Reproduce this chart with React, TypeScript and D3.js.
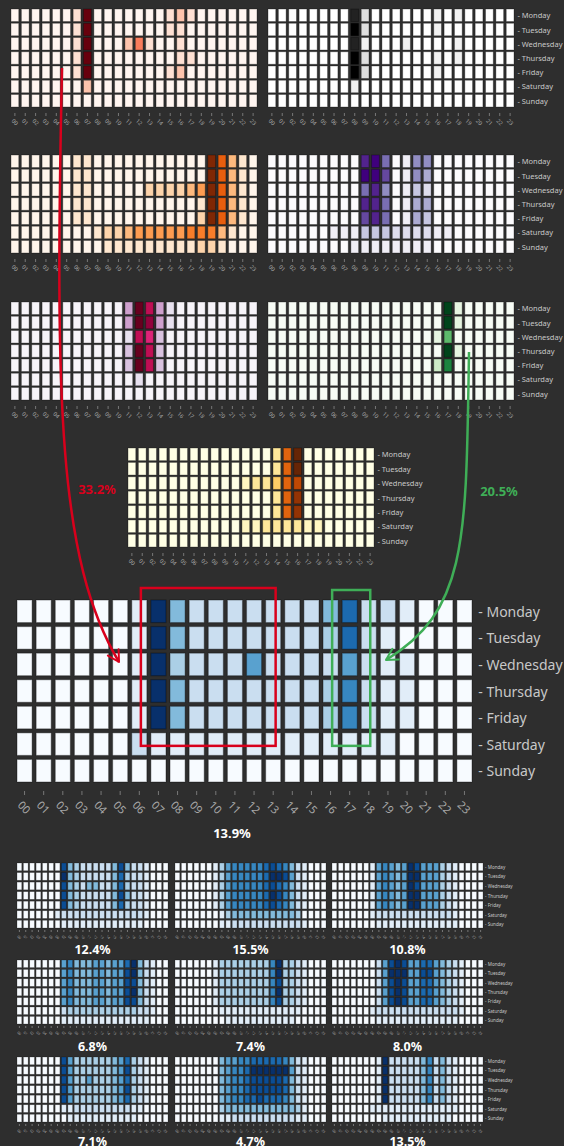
import React from 'react';
import * as d3 from 'd3';

// ---------- labels ----------
const HOURS: string[] = Array.from({ length: 24 }, (_, h) => (h < 10 ? '0' + h : '' + h));
const DAYS = ['Monday', 'Tuesday', 'Wednesday', 'Thursday', 'Friday', 'Saturday', 'Sunday'];

// ---------- data: intensity 0..9 per (day, hour) ----------
const redsGrid = [
  '000000190000000121000000',
  '000000190000000110000000',
  '000000190002410010000000',
  '000000190000000011000000',
  '000000190000000120000000',
  '000000020000000000000000',
  '000000000000000000000000',
];
const greysGrid = [
  '000000008200000010100000',
  '000000009200000010000000',
  '000000008100010000100000',
  '000000009200000010100000',
  '000000009200000010000000',
  '000000001000000000000000',
  '000000000000000000000000',
];
const orangesGrid = [
  '000000110000000000096310',
  '000000110000000000096310',
  '000000110000022223496310',
  '000000110000000000196310',
  '000000110000000000296310',
  '000000001223444445553100',
  '000000000111111111221000',
];
const purplesGrid = [
  '000000000896015500000000',
  '000000000997015400000000',
  '000000000685013200000000',
  '000000000886014400000000',
  '000000000786014300000000',
  '000000111333222211000000',
  '000000001111111100000000',
];
const purdGrid = [
  '000000000003973100000000',
  '000000000003983100000000',
  '000000000001762000000000',
  '000000000002972000000000',
  '000000000002972000000000',
  '000000000000100000000000',
  '000000000000000000000000',
];
const greensGrid = [
  '000000000000000009100000',
  '000000000000000009100000',
  '000000000000000015000000',
  '000000000000000009100000',
  '000000000000000027000000',
  '000000000000000000000000',
  '000000000000000000000000',
];
const ylorbrGrid = [
  '000000000000002690000000',
  '000000000000002690000000',
  '000000000001223670000000',
  '000000000000002680000000',
  '000000000000002680000000',
  '000000000001122221100000',
  '000000000000000000000000',
];
const bigBlues = [
  '000000194222222247221000',
  '000000194222222237210000',
  '000000193222522225211000',
  '000000194222222236211000',
  '000000194222222236211000',
  '000000211111111111110000',
  '000000000000000000000000',
];
const small1 = [
  '000000084322222484221000',
  '000000094322222473221000',
  '000000084324422473221000',
  '000000084322222484221000',
  '000000084322222473221000',
  '000000122222222222221000',
  '000000011111111111110000',
];
const small2 = [
  '000000135666667876421000',
  '000000135666667998521000',
  '000000135666667876421000',
  '000000135666667986421000',
  '000000135666667876421000',
  '000000013444444444430000',
  '000000011222222222221000',
];
const small3 = [
  '000000156545985553210000',
  '000000156545995553210000',
  '000000156545985553210000',
  '000000156545995553210000',
  '000000156545995553210000',
  '000000122222222222210000',
  '000000011111111111110000',
];
const small4 = [
  '000000056444554557942100',
  '000000056444554558942100',
  '000000056444554558842100',
  '000000056444554558942100',
  '000000056444554558842100',
  '000000023333333333322100',
  '000000011111111111111000',
];
const small5 = [
  '000000133333333693321000',
  '000000133333333693321000',
  '000000133333333683321000',
  '000000133333333693321000',
  '000000133333333683321000',
  '000000011111111111110000',
  '000000001111111111100000',
];
const small6 = [
  '000000025898557754321000',
  '000000025999558854321000',
  '000000025898557754321000',
  '000000025898557754321000',
  '000000025898557754321000',
  '000000122222222222221000',
  '000000011111111111110000',
];
const small7 = [
  '000000085333333457321000',
  '000000085333333458321000',
  '000000085335333457321000',
  '000000085333333458321000',
  '000000085333333457321000',
  '000000011222222222110000',
  '000000001111111111100000',
];
const small8 = [
  '000000045566777776421000',
  '000000045667999999521000',
  '000000045667888887421000',
  '000000045667888887421000',
  '000000045667787776421000',
  '000000034444444444431000',
  '000000011222222222211000',
];
const small9 = [
  '000000019222224624210000',
  '000000019222224624210000',
  '000000019222224624210000',
  '000000019222224624210000',
  '000000019222224624210000',
  '000000111111111111110000',
  '000000001111111111100000',
];
const smallGrids = [small1, small2, small3, small4, small5, small6, small7, small8, small9];
const smallLabels = ['12.4%', '15.5%', '10.8%', '6.8%', '7.4%', '8.0%', '7.1%', '4.7%', '13.5%'];
const bigLabel = '13.9%';
const redShare = '33.2%';
const greenShare = '20.5%';

const FONT = "'Segoe UI', 'Noto Sans', 'Open Sans', sans-serif";
const BG = '#2e2e2e';
const RED = '#d8001c';
const GREEN = '#3fae57';

type HMProps = {
  grid: string[];
  interp: (t: number) => string;
  x0: number; y0: number; x1: number; y1: number;
  padX: number; padY: number;
  showDays?: boolean;
  dayFont: number; tickFont: number;
  tickTop: number; tickLen: number; labelOff: number;
  strokeW: number;
};

function Heatmap(p: HMProps) {
  const x = d3.scaleBand<string>().domain(HOURS).range([p.x0, p.x1]).paddingInner(p.padX).paddingOuter(0);
  const y = d3.scaleBand<string>().domain(DAYS).range([p.y0, p.y1]).paddingInner(p.padY).paddingOuter(0);
  const color = d3.scaleSequential(p.interp).domain([0, 9]);
  const cells = p.grid.flatMap((row, r) =>
    row.split('').map((c, h) => ({ day: DAYS[r], hour: HOURS[h], v: parseInt(c, 10) }))
  );
  const bw = x.bandwidth();
  return (
    <g>
      {cells.map((d, i) => (
        <rect
          key={i}
          x={x(d.hour)}
          y={y(d.day)}
          width={bw}
          height={y.bandwidth()}
          fill={color(d.v)}
          stroke="#000000"
          strokeOpacity={0.3}
          strokeWidth={p.strokeW}
        />
      ))}
      {HOURS.map((h) => {
        const cx = (x(h) as number) + bw / 2;
        return (
          <g key={h}>
            <line x1={cx} x2={cx} y1={p.y1 + p.tickTop} y2={p.y1 + p.tickTop + p.tickLen} stroke="#8a8a8a" strokeWidth={0.8} />
            <text
              transform={`translate(${cx},${p.y1 + p.labelOff}) rotate(45)`}
              textAnchor="middle"
              dominantBaseline="central"
              fontSize={p.tickFont}
              fill="#a8a8a8"
              fontFamily={FONT}
            >
              {h}
            </text>
          </g>
        );
      })}
      {p.showDays &&
        DAYS.map((d) => (
          <text
            key={d}
            x={p.x1 + p.dayFont * 0.45}
            y={(y(d) as number) + y.bandwidth() / 2}
            dominantBaseline="central"
            fontSize={p.dayFont}
            fill="#c8c8c8"
            fontFamily={FONT}
          >
            {'- ' + d}
          </text>
        ))}
    </g>
  );
}

const mid = (o: Omit<HMProps, 'padX' | 'padY' | 'dayFont' | 'tickFont' | 'tickTop' | 'tickLen' | 'labelOff' | 'strokeW'>): HMProps => ({
  ...o,
  padX: 0.25, padY: 0.12, dayFont: 7.5, tickFont: 5.5, tickTop: 6, tickLen: 3, labelOff: 15, strokeW: 1,
});

export default function App() {
  const bigX = d3.scaleBand<string>().domain(HOURS).range([17, 472]).paddingInner(0.21).paddingOuter(0);
  const bigY = d3.scaleBand<string>().domain(DAYS).range([600, 782]).paddingInner(0.15).paddingOuter(0);
  const bbw = bigX.bandwidth();

  const smallCols = [[17, 168], [175, 326], [332, 483]];
  const smallRows = [[863, 928], [960, 1024], [1057, 1122]];
  const smallLabelY = [954, 1051, 1146];

  const redPath = 'M62,68 C55,400 58,560 119,662';
  const greenPath = 'M469,352 C466,540 468,610 386,660';

  return (
    <svg width={564} height={1146} style={{ position: 'absolute', left: 0, top: 0, display: 'block' }}>
      <defs>
        <marker id="arrRed" viewBox="0 0 12 12" refX="10" refY="6" markerWidth="6" markerHeight="6" orient="auto" markerUnits="strokeWidth">
          <path d="M1,1 L10,6 L1,11" fill="none" stroke={RED} strokeWidth={1.6} strokeLinecap="round" strokeLinejoin="round" />
        </marker>
        <marker id="arrGreen" viewBox="0 0 12 12" refX="10" refY="6" markerWidth="6" markerHeight="6" orient="auto" markerUnits="strokeWidth">
          <path d="M1,1 L10,6 L1,11" fill="none" stroke={GREEN} strokeWidth={1.6} strokeLinecap="round" strokeLinejoin="round" />
        </marker>
      </defs>
      <rect x={0} y={0} width={564} height={1146} fill={BG} />

      <Heatmap {...mid({ grid: redsGrid, interp: d3.interpolateReds, x0: 11, y0: 9, x1: 257, y1: 107 })} />
      <Heatmap {...mid({ grid: greysGrid, interp: d3.interpolateGreys, x0: 268, y0: 9, x1: 514, y1: 107, showDays: true })} />
      <Heatmap {...mid({ grid: orangesGrid, interp: d3.interpolateOranges, x0: 11, y0: 155, x1: 257, y1: 253 })} />
      <Heatmap {...mid({ grid: purplesGrid, interp: d3.interpolatePurples, x0: 268, y0: 155, x1: 514, y1: 253, showDays: true })} />
      <Heatmap {...mid({ grid: purdGrid, interp: d3.interpolatePuRd, x0: 11, y0: 302, x1: 257, y1: 400 })} />
      <Heatmap {...mid({ grid: greensGrid, interp: d3.interpolateGreens, x0: 268, y0: 302, x1: 514, y1: 400, showDays: true })} />
      <Heatmap {...mid({ grid: ylorbrGrid, interp: d3.interpolateYlOrBr, x0: 128, y0: 448, x1: 374, y1: 547, showDays: true })} />

      {/* big heatmap */}
      <Heatmap
        grid={bigBlues}
        interp={d3.interpolateBlues}
        x0={17} y0={600} x1={472} y1={782}
        padX={0.21} padY={0.15}
        showDays dayFont={14} tickFont={11}
        tickTop={9} tickLen={4} labelOff={25} strokeW={1.2}
      />
      <text x={232} y={838} textAnchor="middle" fontSize={13} fontWeight="bold" fill="#ffffff" fontFamily={FONT}>{bigLabel}</text>

      {/* annotations */}
      <rect
        x={(bigX('07') as number) - 10}
        y={(bigY('Monday') as number) - 12}
        width={(bigX('13') as number) + 10 - ((bigX('07') as number) - 10)}
        height={(bigY('Friday') as number) + bigY.bandwidth() + 17 - ((bigY('Monday') as number) - 12)}
        fill="none" stroke={RED} strokeWidth={2.5}
      />
      <rect
        x={(bigX('17') as number) - 10}
        y={(bigY('Monday') as number) - 10}
        width={bbw + 23}
        height={(bigY('Friday') as number) + bigY.bandwidth() + 17 - ((bigY('Monday') as number) - 10)}
        fill="none" stroke={GREEN} strokeWidth={2.5}
      />
      <path d={redPath} fill="none" stroke={RED} strokeWidth={2.5} markerEnd="url(#arrRed)" />
      <path d={greenPath} fill="none" stroke={GREEN} strokeWidth={2.5} markerEnd="url(#arrGreen)" />
      <text x={97} y={494} textAnchor="middle" fontSize={13} fontWeight="bold" fill={RED} fontFamily={FONT}>{redShare}</text>
      <text x={499} y={496} textAnchor="middle" fontSize={13} fontWeight="bold" fill={GREEN} fontFamily={FONT}>{greenShare}</text>

      {/* small multiples */}
      {smallGrids.map((g, i) => {
        const r = Math.floor(i / 3);
        const c = i % 3;
        const [x0, x1] = smallCols[c];
        const [y0, y1] = smallRows[r];
        return (
          <g key={i}>
            <Heatmap
              grid={g}
              interp={d3.interpolateBlues}
              x0={x0} y0={y0} x1={x1} y1={y1}
              padX={0.25} padY={0.19}
              showDays={c === 2} dayFont={4.6} tickFont={3.5}
              tickTop={2} tickLen={2} labelOff={9} strokeW={0.7}
            />
            <text x={(x0 + x1) / 2} y={smallLabelY[r]} textAnchor="middle" fontSize={12.5} fontWeight="bold" fill="#ffffff" fontFamily={FONT}>
              {smallLabels[i]}
            </text>
          </g>
        );
      })}
    </svg>
  );
}
